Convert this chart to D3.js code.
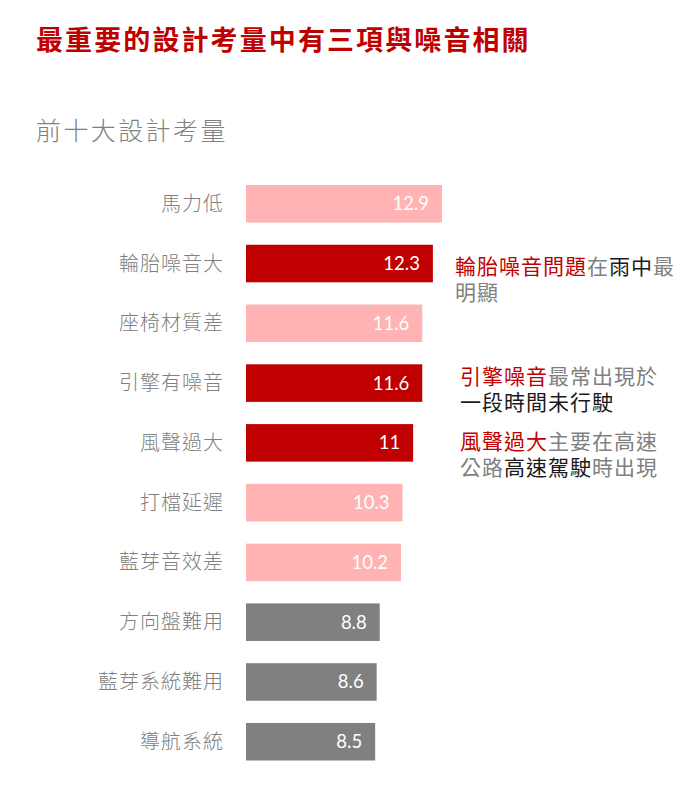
<!DOCTYPE html>
<html>
<head>
<meta charset="utf-8">
<script src="https://cdn.jsdelivr.net/npm/d3@7"></script>
<style>
  body { margin: 0; background: #fff; }
  svg text { font-family: "Noto Sans CJK TC", "Noto Sans", sans-serif; }
  svg text.note { font-family: "Liberation Sans", "Noto Sans CJK TC", sans-serif; }
</style>
</head>
<body>
<svg id="chart" width="686" height="792"></svg>
<script>
const categories = ['馬力低', '輪胎噪音大', '座椅材質差', '引擎有噪音', '風聲過大',
                    '打檔延遲', '藍芽音效差', '方向盤難用', '藍芽系統難用', '導航系統'];
const values = [12.9, 12.3, 11.6, 11.6, 11, 10.3, 10.2, 8.8, 8.6, 8.5];
const groups = ['pink', 'red', 'pink', 'red', 'red', 'pink', 'pink', 'gray', 'gray', 'gray'];

// annotation text: [category, lines of [text, tone]]
const notes = [
  ['輪胎噪音大', [[['輪胎噪音問題', 'red'], ['在', 'gray'], ['雨中', 'black'], ['最', 'gray']],
                [['明顯', 'gray']]]],
  ['引擎有噪音', [[['引擎噪音', 'red'], ['最常出現於', 'gray']],
                [['一段時間未行駛', 'black']]]],
  ['風聲過大', [[['風聲過大', 'red'], ['主要在高速', 'gray']],
               [['公路', 'gray'], ['高速駕駛', 'black'], ['時出現', 'gray']]]]
];

const barColor = {pink: '#ffb3b3', red: '#c00000', gray: '#808080'};
const toneColor = {red: '#c00000', gray: '#808080', black: '#1a1a1a'};

const svg = d3.select('#chart');

svg.append('text')
    .attr('x', 36).attr('y', 50)
    .attr('fill', '#c00000')
    .attr('font-size', 27)
    .attr('font-weight', 700)
    .attr('letter-spacing', 2.1)
    .text('最重要的設計考量中有三項與噪音相關');

svg.append('text')
    .attr('x', 36).attr('y', 140)
    .attr('fill', '#808080')
    .attr('font-size', 25)
    .attr('font-weight', 300)
    .attr('letter-spacing', 2.4)
    .text('前十大設計考量');

const x = d3.scaleLinear()
    .domain([0, 12.9])
    .range([246, 442]);

const y = d3.scaleBand()
    .domain(categories)
    .range([185, 760.5])
    .paddingInner(0.372)
    .paddingOuter(0);

const rows = categories.map((c, i) => ({c, v: values[i], g: groups[i]}));

const g = svg.append('g');

g.selectAll('rect')
    .data(rows).enter().append('rect')
    .attr('x', x(0))
    .attr('y', d => y(d.c))
    .attr('width', d => x(d.v) - x(0))
    .attr('height', y.bandwidth())
    .attr('fill', d => barColor[d.g]);

g.selectAll('text.val')
    .data(rows).enter().append('text')
    .attr('class', 'val')
    .attr('x', d => x(d.v) - 13)
    .attr('y', d => y(d.c) + y.bandwidth() / 2 + 6.5)
    .attr('text-anchor', 'end')
    .attr('fill', '#fff')
    .attr('font-size', 18.5)
    .style('font-family', 'Lato, "Open Sans", sans-serif')
    .text(d => d.v);

// category axis, right aligned next to bars
const yAxis = svg.append('g')
    .attr('transform', `translate(${x(0) - 22},0)`)
    .call(d3.axisLeft(y).tickSize(0).tickPadding(0));
yAxis.select('.domain').remove();
yAxis.selectAll('text')
    .attr('fill', '#808080')
    .attr('font-size', 20)
    .attr('font-weight', 300)
    .attr('letter-spacing', 1)
    .attr('dy', '0.35em')
    .style('font-family', '"Noto Sans CJK TC", sans-serif');

// annotations next to the noise bars: one text per line, tspans per coloured run
const noteX = [455, 460, 460];
const noteDy = [3, -6, -1];
notes.forEach(([cat, lines], k) => {
    const cy = y(cat) + y.bandwidth() / 2 + noteDy[k];
    lines.forEach((segs, li) => {
        const t = svg.append('text')
            .attr('class', 'note')
            .attr('x', noteX[k])
            .attr('y', cy + 7 + li * 26)
            .attr('font-size', 21)
            .attr('letter-spacing', 1);
        segs.forEach(([txt, tone]) => {
            t.append('tspan').attr('fill', toneColor[tone]).text(txt);
        });
    });
});
</script>
</body>
</html>
